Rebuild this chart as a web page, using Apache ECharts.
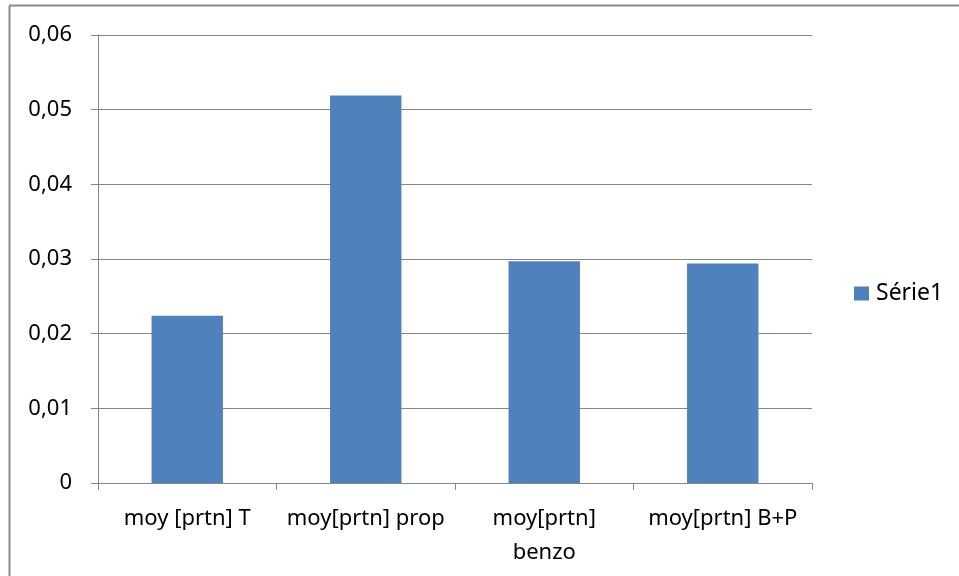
<!DOCTYPE html>
<html>
<head>
<meta charset="utf-8">
<script src="https://cdn.jsdelivr.net/npm/echarts@6/dist/echarts.min.js"></script>
<style>html,body{margin:0;padding:0;background:#fff}#c{width:959px;height:576px}</style>
</head>
<body>
<div id="c"></div>
<script>
const categories = ["moy [prtn] T", "moy[prtn] prop", "moy[prtn]\nbenzo", "moy[prtn] B+P"];
const serie1 = [0.0224, 0.0519, 0.0297, 0.0294];
const seriesName = "Série1";
const yMin = 0, yMax = 0.06, yStep = 0.01;

const chart = echarts.init(document.getElementById('c'), null, {renderer: 'canvas'});
const font = '"Noto Sans", "Open Sans", sans-serif';
chart.setOption({
  animation: false,
  backgroundColor: '#fff',
  textStyle: {fontFamily: font},
  graphic: [
    {type: 'line', shape: {x1: 9.5, y1: 6, x2: 9.5, y2: 576}, style: {stroke: '#8a8a8a', lineWidth: 2}},
    {type: 'line', shape: {x1: 9, y1: 5.5, x2: 959, y2: 5.5}, style: {stroke: '#8a8a8a', lineWidth: 2}}
  ],
  grid: {left: 98, right: 147, top: 35, bottom: 93, containLabel: false},
  legend: {
    data: [seriesName], left: 854, top: 282, orient: 'vertical', padding: 0,
    icon: 'rect', itemWidth: 15, itemHeight: 14, itemGap: 5,
    textStyle: {fontFamily: font, fontSize: 23, color: '#000', padding: [0, 0, 0, 2]}
  },
  xAxis: {
    type: 'category', data: categories,
    axisLine: {lineStyle: {color: '#868686', width: 1}},
    axisTick: {show: true, alignWithLabel: false, length: 7, lineStyle: {color: '#868686'}},
    axisLabel: {fontFamily: font, fontSize: 22, color: '#000', margin: 19, lineHeight: 34, interval: 0}
  },
  yAxis: {
    type: 'value', min: yMin, max: yMax, interval: yStep,
    axisLine: {show: true, lineStyle: {color: '#868686', width: 1}},
    axisTick: {show: true, length: 7, lineStyle: {color: '#868686'}},
    splitLine: {lineStyle: {color: '#868686', width: 1}},
    axisLabel: {fontFamily: font, fontSize: 22, color: '#000', margin: 26,
      formatter: v => v === 0 ? '0' : v.toFixed(2).replace('.', ',')}
  },
  series: [{
    name: seriesName, type: 'bar', data: serie1, barWidth: '40%',
    itemStyle: {color: '#4F81BD'}
  }]
});
</script>
</body>
</html>
